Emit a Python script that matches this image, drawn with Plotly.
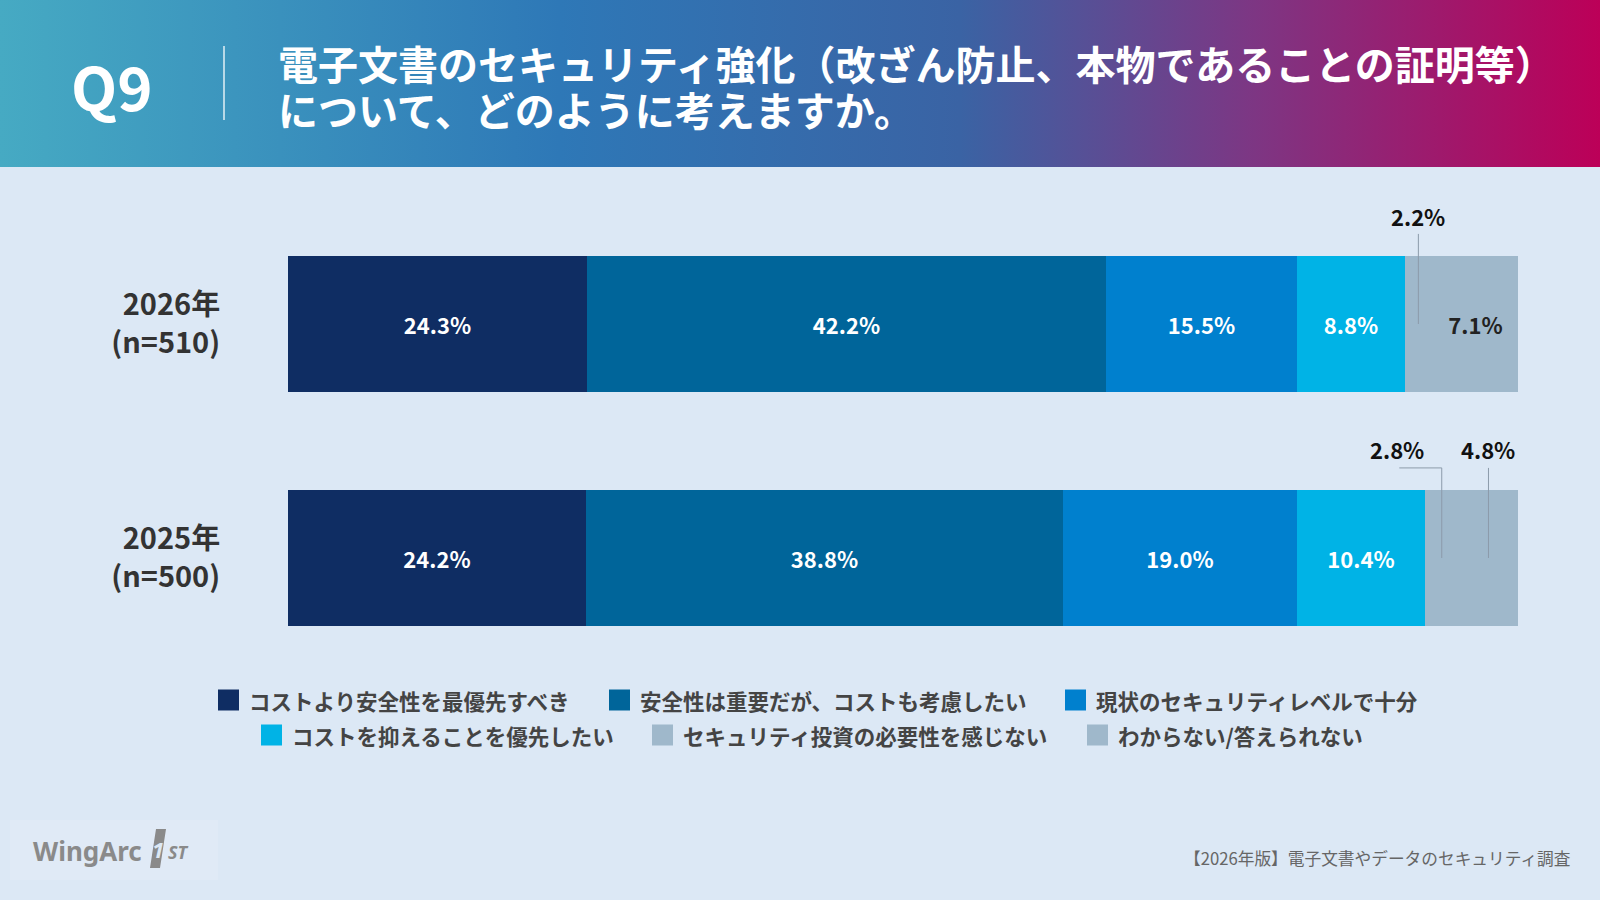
import base64
import plotly.graph_objects as go

# ---------------- data ----------------
years = ["2026年<br>(n=510)", "2025年<br>(n=500)"]
series_names = [
    "コストより安全性を最優先すべき",
    "安全性は重要だが、コストも考慮したい",
    "現状のセキュリティレベルで十分",
    "コストを抑えることを優先したい",
    "セキュリティ投資の必要性を感じない",
    "わからない/答えられない",
]
v2026 = [24.3, 42.2, 15.5, 8.8, 2.2, 7.1]
v2025 = [24.2, 38.8, 19.0, 10.4, 2.8, 4.8]

colors = ["#0F2D63", "#00659A", "#0080CE", "#00B3E6", "#9FB8CB", "#9FB8CB"]
text_colors = ["#FFFFFF", "#FFFFFF", "#FFFFFF", "#FFFFFF", "#222222", "#222222"]

title_line1 = "電子文書のセキュリティ強化（改ざん防止、本物であることの証明等）"
title_line2 = "について、どのように考えますか。"
qlabel = "Q9"
source_text = "【2026年版】電子文書やデータのセキュリティ調査"

W, H = 1600, 900
FONT = "Noto Sans CJK JP"
BG = "#DCE8F5"


def px(x):
    return x / W


def py(y):
    return 1 - y / H


OUTSIDE_LIMIT = 5.0
BAR_W = 0.585

fig = go.Figure()
series_values = [v2026, v2025]
for i, name in enumerate(series_names):
    vals = [series_values[0][i], series_values[1][i]]
    texts = [f"{v:.1f}%" if v >= OUTSIDE_LIMIT else "" for v in vals]
    fig.add_trace(go.Bar(
        name=name,
        orientation="h",
        y=years,
        x=vals,
        width=BAR_W,
        marker=dict(color=colors[i], line=dict(width=0)),
        text=texts,
        textposition="inside",
        insidetextanchor="middle",
        textangle=0,
        textfont=dict(family=FONT, size=22, color=text_colors[i], weight="bold"),
        showlegend=False,
        hoverinfo="skip",
    ))

shapes = []
annotations = []

# outside labels with leader lines
line_col = "#8C9BAA"
for row, vals in enumerate(series_values):
    ypos = 1 - row  # 2026 -> 1, 2025 -> 0
    cum = 0.0
    centers = []
    for v in vals:
        centers.append(cum + v / 2)
        cum += v
    for i, v in enumerate(vals):
        if v >= OUTSIDE_LIMIT:
            continue
        c = centers[i]
        nxt_outside = i + 1 < len(vals) and vals[i + 1] < OUTSIDE_LIMIT
        if row == 0:
            shapes.append(dict(type="line", xref="x", yref="y", x0=c, x1=c,
                               y0=ypos, y1=ypos + 0.385,
                               line=dict(color=line_col, width=1)))
            annotations.append(dict(x=c, y=ypos + 0.462, xref="x", yref="y",
                                    text=f"{v:.1f}%", showarrow=False,
                                    font=dict(family=FONT, size=22, color="#111111", weight="bold")))
        else:
            lx = c - 3.6 if nxt_outside else c
            if nxt_outside:
                shapes.append(dict(type="line", xref="x", yref="y", x0=lx + 0.15, x1=c,
                                   y0=ypos + 0.385, y1=ypos + 0.385,
                                   line=dict(color=line_col, width=1)))
            shapes.append(dict(type="line", xref="x", yref="y", x0=c, x1=c,
                               y0=ypos, y1=ypos + 0.385,
                               line=dict(color=line_col, width=1)))
            annotations.append(dict(x=lx, y=ypos + 0.466, xref="x", yref="y",
                                    text=f"{v:.1f}%", showarrow=False,
                                    font=dict(family=FONT, size=22, color="#111111", weight="bold")))

# header gradient via SVG image
svg = (
    '<svg xmlns="http://www.w3.org/2000/svg" width="1600" height="167" preserveAspectRatio="none">'
    '<defs><linearGradient id="g" x1="0" y1="0" x2="1" y2="0">'
    '<stop offset="0" stop-color="#46AAC3"/>'
    '<stop offset="0.35" stop-color="#2E78B7"/>'
    '<stop offset="0.60" stop-color="#3A63A4"/>'
    '<stop offset="0.78" stop-color="#7C3784"/>'
    '<stop offset="1" stop-color="#BC0058"/>'
    '</linearGradient></defs>'
    '<rect x="0" y="0" width="1600" height="167" fill="url(#g)"/></svg>'
)
src = "data:image/svg+xml;base64," + base64.b64encode(svg.encode()).decode()
images = [dict(source=src, xref="paper", yref="paper", x=0, y=1, sizex=1, sizey=167 / H,
               xanchor="left", yanchor="top", sizing="stretch", layer="below")]

# header texts
annotations.append(dict(x=px(112), y=py(84), xref="paper", yref="paper", text=qlabel,
                        showarrow=False, xanchor="center", yanchor="middle",
                        font=dict(family=FONT, size=60, color="white", weight="bold")))
shapes.append(dict(type="line", xref="paper", yref="paper", x0=px(224), x1=px(224),
                   y0=py(46), y1=py(120), line=dict(color="rgba(255,255,255,0.85)", width=1.5)))
annotations.append(dict(x=px(276), y=py(63), xref="paper", yref="paper", text=title_line1,
                        showarrow=False, xanchor="left", yanchor="middle", height=46,
                        valign="middle",
                        font=dict(family=FONT, size=40, color="white", weight="bold")))
annotations.append(dict(x=px(276), y=py(109), xref="paper", yref="paper", text=title_line2,
                        showarrow=False, xanchor="left", yanchor="middle", height=46,
                        valign="middle",
                        font=dict(family=FONT, size=40, color="white", weight="bold")))

# legend (manual)
legend_rows = [(700, [218, 609, 1065]), (735, [261, 652, 1087])]
k = 0
for yc, lefts in legend_rows:
    for lx in lefts:
        shapes.append(dict(type="rect", xref="paper", yref="paper",
                           x0=px(lx), x1=px(lx + 21), y0=py(yc - 10.5), y1=py(yc + 10.5),
                           fillcolor=colors[k], line=dict(width=0)))
        annotations.append(dict(x=px(lx + 29), y=py(yc), xref="paper", yref="paper",
                                text=series_names[k], showarrow=False, xanchor="left",
                                yanchor="middle",
                                font=dict(family=FONT, size=21.5, color="#444444", weight="bold")))
        k += 1

# source
annotations.append(dict(x=px(1573), y=py(858), xref="paper", yref="paper", text=source_text,
                        showarrow=False, xanchor="right", yanchor="middle",
                        font=dict(family=FONT, size=16.7, color="#666666")))

# logo
shapes.append(dict(type="rect", xref="paper", yref="paper", x0=px(10), x1=px(218),
                   y0=py(880), y1=py(820), fillcolor="rgba(255,255,255,0.12)", line=dict(width=0)))
annotations.append(dict(x=px(31), y=py(851), xref="paper", yref="paper", text="WingArc",
                        showarrow=False, xanchor="left", yanchor="middle",
                        font=dict(family="Noto Sans", size=26, color="#8A8A8A", weight="bold")))
path = (f"M {px(150)},{py(868)} L {px(156)},{py(829)} L {px(166)},{py(829)} "
        f"L {px(160)},{py(868)} Z")
shapes.append(dict(type="path", xref="paper", yref="paper", path=path,
                   fillcolor="#8A8A8A", line=dict(width=0)))
annotations.append(dict(x=px(158), y=py(849), xref="paper", yref="paper", text="<i>1</i>",
                        showarrow=False, xanchor="center", yanchor="middle",
                        font=dict(family="Noto Sans", size=22, color="#DCE8F5", weight="bold")))
annotations.append(dict(x=px(166), y=py(852), xref="paper", yref="paper", text="<i>ST</i>",
                        showarrow=False, xanchor="left", yanchor="middle",
                        font=dict(family="Noto Sans", size=18, color="#8A8A8A", weight="bold")))

fig.update_layout(
    width=W, height=H,
    margin=dict(l=0, r=0, t=0, b=0),
    paper_bgcolor=BG, plot_bgcolor=BG,
    barmode="stack",
    bargap=0,
    showlegend=False,
    shapes=shapes,
    annotations=annotations,
    images=images,
    xaxis=dict(domain=[px(288), px(1518)], range=[0, 100], showgrid=False, zeroline=False,
               showticklabels=False, showline=False, fixedrange=True),
    yaxis=dict(domain=[0.25, 0.77], type="category", categoryorder="array",
               categoryarray=[years[1], years[0]], range=[-0.5, 1.5],
               showgrid=False, zeroline=False, showline=False,
               ticks="outside", ticklen=61, tickcolor="rgba(0,0,0,0)",
               tickfont=dict(family=FONT, size=29, color="#333333", weight="bold"),
               fixedrange=True),
)

fig.write_html("out.html")
